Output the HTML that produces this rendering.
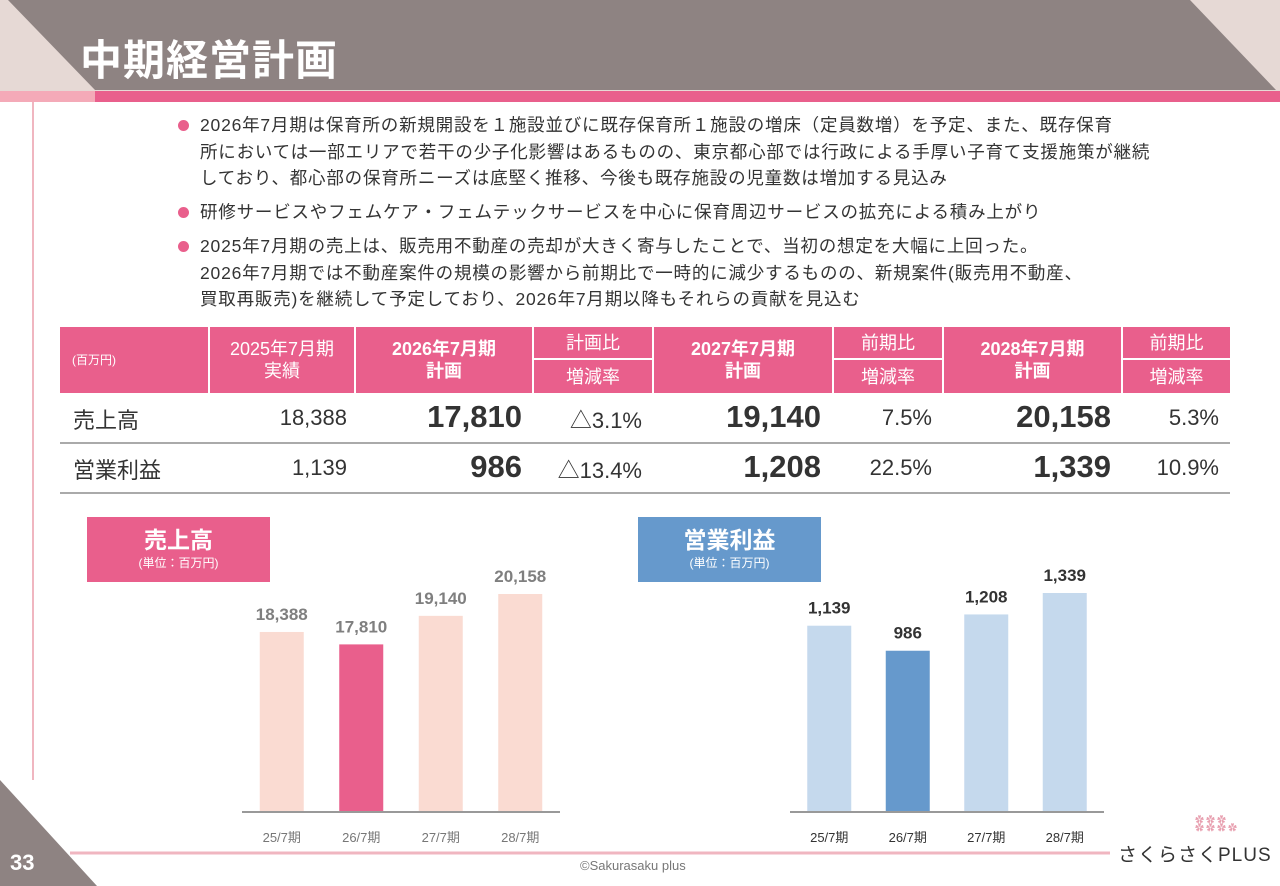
<!DOCTYPE html>
<html><head><meta charset="utf-8">
<style>
*{margin:0;padding:0;box-sizing:border-box}
body{width:1280px;height:886px;position:relative;overflow:hidden;background:#fff;font-family:"Liberation Sans","Noto Sans CJK JP",sans-serif;color:#333}
.a{position:absolute}
.bul{position:absolute;left:200px;font-size:17.5px;letter-spacing:0.8px;line-height:26.5px;color:#333;white-space:nowrap}
.dot{position:absolute;left:178px;width:11px;height:11px;border-radius:50%;background:#e95f8c}
.th{position:absolute;background:#e95f8c;color:#fff;text-align:center;border-right:2px solid #fff;display:flex;flex-direction:column;justify-content:center;line-height:22px;font-size:18px}
.td{position:absolute;text-align:right;font-size:22px;color:#333;white-space:nowrap}
.big{font-weight:bold;font-size:31px}
</style></head><body>
<svg class="a" style="left:0;top:0" width="1280" height="886">
<rect x="0" y="0" width="1280" height="92" fill="#e6d9d5"/>
<polygon points="8,0 1190,0 1276,90 95,90" fill="#8e8382"/>
<rect x="0" y="91" width="1280" height="11" fill="#f4aab8"/>
<rect x="95" y="91" width="1185" height="11" fill="#e95f8c"/>
<line x1="33" y1="102" x2="33" y2="780" stroke="#f0b6c0" stroke-width="2"/>
<line x1="70" y1="853" x2="1110" y2="853" stroke="#f0b6c0" stroke-width="3"/>
<polygon points="0,780 97,886 0,886" fill="#8e8382"/>
</svg>
<div class="a" style="left:80px;top:27px;font-size:42px;font-weight:bold;color:#fff;letter-spacing:1px">中期経営計画</div>
<div class="a" style="left:10px;top:850px;font-size:22px;font-weight:bold;color:#fff">33</div>
<div class="a" style="left:580px;top:858px;font-size:13px;color:#777">©Sakurasaku plus</div>
<div class="a" style="left:1118px;top:840px;font-size:19px;color:#333;letter-spacing:1px">さくらさくPLUS</div>
<div class="a" style="left:1195px;top:816px;font-size:9px;color:#e8a0b0;letter-spacing:2px;line-height:8px">✿✿✿<br>✿✿✿✿</div>

<div class="dot" style="top:120px"></div>
<div class="bul" style="top:112px">2026年7月期は保育所の新規開設を１施設並びに既存保育所１施設の増床（定員数増）を予定、また、既存保育<br>所においては一部エリアで若干の少子化影響はあるものの、東京都心部では行政による手厚い子育て支援施策が継続<br>しており、都心部の保育所ニーズは底堅く推移、今後も既存施設の児童数は増加する見込み</div>
<div class="dot" style="top:207px"></div>
<div class="bul" style="top:199px">研修サービスやフェムケア・フェムテックサービスを中心に保育周辺サービスの拡充による積み上がり</div>
<div class="dot" style="top:241px"></div>
<div class="bul" style="top:233px">2025年7月期の売上は、販売用不動産の売却が大きく寄与したことで、当初の想定を大幅に上回った。<br>2026年7月期では不動産案件の規模の影響から前期比で一時的に減少するものの、新規案件(販売用不動産、<br>買取再販売)を継続して予定しており、2026年7月期以降もそれらの貢献を見込む</div>

<!-- table -->
<div>
<div class="th" style="left:60px;top:327px;width:150px;height:66px;text-align:left;padding-left:12px;font-size:12px">(百万円)</div>
<div class="th" style="left:210px;top:327px;width:146px;height:66px">2025年7月期<br>実績</div>
<div class="th" style="left:356px;top:327px;width:178px;height:66px;font-weight:bold">2026年7月期<br>計画</div>
<div class="th" style="left:534px;top:327px;width:120px;height:33px;border-bottom:2px solid #fff">計画比</div>
<div class="th" style="left:534px;top:360px;width:120px;height:33px">増減率</div>
<div class="th" style="left:654px;top:327px;width:180px;height:66px;font-weight:bold">2027年7月期<br>計画</div>
<div class="th" style="left:834px;top:327px;width:110px;height:33px;border-bottom:2px solid #fff">前期比</div>
<div class="th" style="left:834px;top:360px;width:110px;height:33px">増減率</div>
<div class="th" style="left:944px;top:327px;width:179px;height:66px;font-weight:bold">2028年7月期<br>計画</div>
<div class="th" style="left:1123px;top:327px;width:107px;height:33px;border-bottom:2px solid #fff;border-right:none">前期比</div>
<div class="th" style="left:1123px;top:360px;width:107px;height:33px;border-right:none">増減率</div>
<div class="a" style="left:60px;top:442px;width:1170px;height:2px;background:#aaa"></div>
<div class="a" style="left:60px;top:492px;width:1170px;height:2px;background:#aaa"></div>
<div class="td" style="left:73px;top:403px;text-align:left">売上高</div>
<div class="td" style="right:933px;top:405px">18,388</div>
<div class="td big" style="right:758px;top:399px">17,810</div>
<div class="td" style="right:638px;top:403px">△3.1%</div>
<div class="td big" style="right:459px;top:399px">19,140</div>
<div class="td" style="right:348px;top:405px">7.5%</div>
<div class="td big" style="right:169px;top:399px">20,158</div>
<div class="td" style="right:61px;top:405px">5.3%</div>
<div class="td" style="left:73px;top:453px;text-align:left">営業利益</div>
<div class="td" style="right:933px;top:455px">1,139</div>
<div class="td big" style="right:758px;top:449px">986</div>
<div class="td" style="right:638px;top:453px">△13.4%</div>
<div class="td big" style="right:459px;top:449px">1,208</div>
<div class="td" style="right:348px;top:455px">22.5%</div>
<div class="td big" style="right:169px;top:449px">1,339</div>
<div class="td" style="right:61px;top:455px">10.9%</div>
</div>

<div class="a" style="left:87px;top:517px;width:183px;height:65px;background:#e95f8c;color:#fff;text-align:center"><div style="font-size:23px;font-weight:bold;margin-top:9px;line-height:28px">売上高</div><div style="font-size:12px">(単位：百万円)</div></div>
<div class="a" style="left:638px;top:517px;width:183px;height:65px;background:#6699cc;color:#fff;text-align:center"><div style="font-size:23px;font-weight:bold;margin-top:9px;line-height:28px">営業利益</div><div style="font-size:12px">(単位：百万円)</div></div>

<svg id="charts" class="a" style="left:0;top:0" width="1280" height="886"></svg>
<script>
const categories=["25/7期","26/7期","27/7期","28/7期"];
const salesValues=[18388,17810,19140,20158];
const profitValues=[1139,986,1208,1339];
const salesLabels=["18,388","17,810","19,140","20,158"];
const profitLabels=["1,139","986","1,208","1,339"];
const NS="http://www.w3.org/2000/svg";
const svg=document.getElementById('charts');
function mk(t,a){const e=document.createElementNS(NS,t);for(const k in a)e.setAttribute(k,a[k]);svg.appendChild(e);return e;}
function draw(name,vals,labels,x0,x1,vmin,vmax,ytop,base,colLight,colHi,labCol){
  const xs=i=>x0+(x1-x0)*(i+0.5)/categories.length;
  const ys=v=>base-(v-vmin)/(vmax-vmin)*(base-ytop);
  vals.forEach((v,i)=>{
    const r=mk('rect',{x:xs(i)-22,y:ys(v),width:44,height:base-ys(v),fill:i===1?colHi:colLight});
    
    
    const t=mk('text',{x:xs(i),y:ys(v)-12,'text-anchor':'middle','font-size':'17','font-weight':'bold',fill:labCol});
    t.textContent=labels[i];
    
    
    const c=mk('text',{x:xs(i),y:842,'text-anchor':'middle','font-size':'13',fill:name==='sales'?'#777':'#333'});
    c.textContent=categories[i];
    
    
  });
  const l=mk('line',{x1:x0,y1:base,x2:x1,y2:base,stroke:'#999','stroke-width':2});
  
  
}
draw('sales',salesValues,salesLabels,242,560,10000,20158,594,812,'#fadbd2','#e95f8c','#7f7f7f');
draw('profit',profitValues,profitLabels,790,1104,0,1339,593,812,'#c5d9ed','#6699cc','#333');
</script>
</body></html>
